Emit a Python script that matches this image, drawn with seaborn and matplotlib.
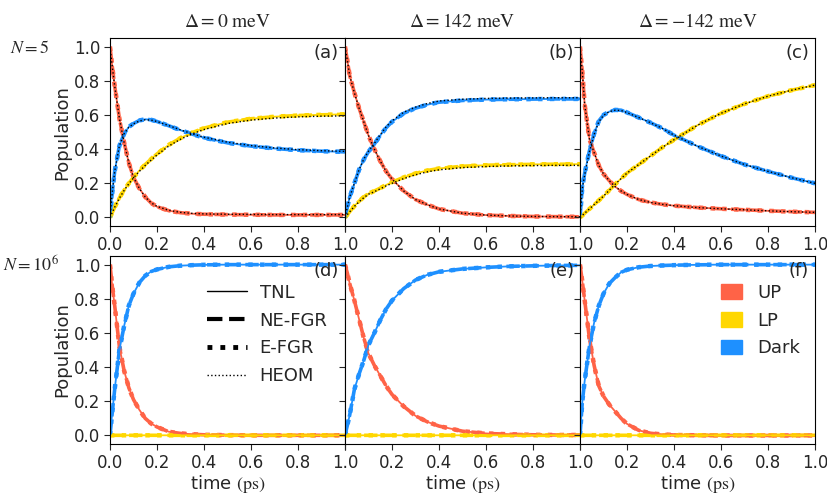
import numpy as np
import pandas as pd
import matplotlib as mpl
from matplotlib import pyplot as plt
from matplotlib.lines import Line2D
from matplotlib.patches import Patch
import seaborn as sns

sns.set_style("ticks")
plt.rcParams['font.family'] = ['DejaVu Sans']
plt.rcParams['mathtext.fontset'] = 'stix'

# time grid (ps)
time = [0.0, 0.01, 0.02, 0.04, 0.06, 0.08, 0.1, 0.125, 0.15, 0.175, 0.2,
        0.25, 0.3, 0.35, 0.4, 0.5, 0.6, 0.7, 0.8, 0.9, 1.0]

# (a) N=5, Delta=0
a_up = [1.0, 0.88, 0.77, 0.58, 0.44, 0.32, 0.235, 0.17, 0.12, 0.085, 0.063,
        0.04, 0.028, 0.022, 0.019, 0.017, 0.016, 0.015, 0.015, 0.015, 0.015]
a_lp = [0.0, 0.03, 0.06, 0.115, 0.16, 0.2, 0.235, 0.275, 0.31, 0.342, 0.372,
        0.425, 0.465, 0.497, 0.523, 0.558, 0.578, 0.59, 0.597, 0.601, 0.604]
a_dark = [0.0, 0.15, 0.27, 0.42, 0.49, 0.53, 0.55, 0.568, 0.575, 0.572, 0.562,
          0.537, 0.511, 0.488, 0.467, 0.437, 0.418, 0.404, 0.394, 0.388, 0.384]
a_heom_up = [1.0, 0.88, 0.77, 0.58, 0.44, 0.32, 0.235, 0.17, 0.12, 0.086, 0.065,
             0.042, 0.03, 0.024, 0.021, 0.019, 0.018, 0.017, 0.017, 0.017, 0.017]
a_heom_lp = [0.0, 0.03, 0.06, 0.113, 0.158, 0.197, 0.232, 0.27, 0.305, 0.336, 0.366,
             0.418, 0.458, 0.49, 0.515, 0.55, 0.57, 0.582, 0.589, 0.593, 0.595]
a_heom_dark = [0.0, 0.15, 0.27, 0.42, 0.49, 0.528, 0.548, 0.565, 0.572, 0.57, 0.562,
               0.538, 0.513, 0.49, 0.47, 0.441, 0.421, 0.407, 0.397, 0.391, 0.387]

# (b) N=5, Delta=142 meV
b_up = [1.0, 0.92, 0.83, 0.73, 0.64, 0.56, 0.48, 0.40, 0.33, 0.27, 0.225,
        0.155, 0.105, 0.075, 0.05, 0.025, 0.014, 0.009, 0.006, 0.005, 0.004]
b_lp = [0.0, 0.017, 0.034, 0.067, 0.095, 0.12, 0.14, 0.155, 0.172, 0.19, 0.207,
        0.235, 0.258, 0.275, 0.287, 0.3, 0.306, 0.309, 0.311, 0.312, 0.312]
b_dark = [0.0, 0.06, 0.12, 0.2, 0.28, 0.34, 0.385, 0.43, 0.48, 0.525, 0.56,
          0.61, 0.64, 0.66, 0.675, 0.685, 0.69, 0.692, 0.693, 0.694, 0.694]
b_heom_up = [1.0, 0.92, 0.83, 0.73, 0.64, 0.56, 0.48, 0.40, 0.33, 0.27, 0.225,
             0.155, 0.105, 0.075, 0.05, 0.025, 0.014, 0.009, 0.006, 0.005, 0.004]
b_heom_lp = [0.0, 0.017, 0.033, 0.065, 0.092, 0.116, 0.136, 0.151, 0.168, 0.185, 0.2,
             0.228, 0.25, 0.267, 0.279, 0.292, 0.298, 0.302, 0.304, 0.305, 0.305]
b_heom_dark = [0.0, 0.06, 0.12, 0.2, 0.28, 0.342, 0.388, 0.434, 0.485, 0.53, 0.566,
               0.616, 0.646, 0.667, 0.682, 0.692, 0.697, 0.699, 0.7, 0.701, 0.701]

# (c) N=5, Delta=-142 meV
c_up = [1.0, 0.85, 0.66, 0.46, 0.38, 0.305, 0.255, 0.215, 0.18, 0.155, 0.135,
        0.105, 0.088, 0.077, 0.069, 0.058, 0.051, 0.045, 0.039, 0.034, 0.03]
c_lp = [0.0, 0.012, 0.025, 0.05, 0.075, 0.1, 0.125, 0.16, 0.195, 0.228, 0.26,
        0.31, 0.36, 0.41, 0.455, 0.54, 0.61, 0.665, 0.71, 0.745, 0.775]
c_dark = [0.0, 0.18, 0.26, 0.39, 0.49, 0.565, 0.6, 0.62, 0.63, 0.628, 0.615,
          0.585, 0.555, 0.522, 0.482, 0.417, 0.36, 0.31, 0.27, 0.233, 0.2]
c_heom_up = [1.0, 0.85, 0.66, 0.46, 0.38, 0.305, 0.255, 0.215, 0.18, 0.155, 0.135,
             0.105, 0.088, 0.077, 0.069, 0.058, 0.051, 0.045, 0.039, 0.034, 0.03]
c_heom_lp = [0.0, 0.012, 0.025, 0.05, 0.075, 0.1, 0.125, 0.16, 0.195, 0.228, 0.26,
             0.31, 0.36, 0.41, 0.455, 0.54, 0.61, 0.665, 0.71, 0.745, 0.775]
c_heom_dark = [0.0, 0.17, 0.25, 0.385, 0.485, 0.56, 0.598, 0.62, 0.628, 0.626, 0.614,
               0.585, 0.555, 0.522, 0.482, 0.417, 0.36, 0.31, 0.27, 0.233, 0.2]

# (d) N=10^6, Delta=0
d_up = [1.0, 0.87, 0.76, 0.52, 0.38, 0.28, 0.21, 0.15, 0.1, 0.07, 0.05,
        0.022, 0.012, 0.007, 0.004, 0.002, 0.001, 0.001, 0.001, 0.001, 0.001]
d_lp = [0.0, 0.001, 0.001, 0.001, 0.001, 0.001, 0.001, 0.001, 0.001, 0.001, 0.001,
        0.001, 0.001, 0.001, 0.001, 0.001, 0.001, 0.001, 0.001, 0.001, 0.001]
d_dark = [0.0, 0.14, 0.27, 0.5, 0.64, 0.76, 0.83, 0.895, 0.935, 0.96, 0.972,
          0.987, 0.994, 0.997, 0.999, 1.0, 1.0, 1.0, 1.0, 1.0, 1.0]

# (e) N=10^6, Delta=142 meV
e_up = [1.0, 0.95, 0.89, 0.79, 0.68, 0.57, 0.48, 0.41, 0.35, 0.29, 0.24,
        0.17, 0.115, 0.08, 0.055, 0.025, 0.012, 0.007, 0.004, 0.003, 0.003]
e_lp = [0.0, 0.001, 0.001, 0.001, 0.001, 0.001, 0.001, 0.001, 0.001, 0.001, 0.001,
        0.001, 0.001, 0.001, 0.001, 0.001, 0.001, 0.001, 0.001, 0.001, 0.001]
e_dark = [0.0, 0.06, 0.12, 0.27, 0.36, 0.44, 0.53, 0.6, 0.675, 0.74, 0.79,
          0.86, 0.91, 0.94, 0.958, 0.975, 0.984, 0.99, 0.993, 0.995, 0.996]

# (f) N=10^6, Delta=-142 meV
f_up = [1.0, 0.9, 0.79, 0.57, 0.41, 0.29, 0.23, 0.18, 0.14, 0.1, 0.068,
        0.03, 0.013, 0.006, 0.003, 0.001, 0.0, 0.0, 0.0, 0.0, 0.0]
f_lp = [0.0, 0.001, 0.001, 0.001, 0.001, 0.001, 0.001, 0.001, 0.001, 0.001, 0.001,
        0.001, 0.001, 0.001, 0.001, 0.001, 0.001, 0.001, 0.001, 0.001, 0.001]
f_dark = [0.0, 0.2, 0.32, 0.52, 0.66, 0.76, 0.83, 0.89, 0.925, 0.955, 0.97,
          0.985, 0.992, 0.995, 0.997, 0.999, 1.0, 1.0, 1.0, 1.0, 1.0]

species = ['UP', 'LP', 'Dark']
colors = {'UP': '#FF6347', 'LP': '#FFD700', 'Dark': '#1E90FF'}
col_titles = [r'$\Delta = 0\ \mathrm{meV}$', r'$\Delta = 142\ \mathrm{meV}$',
              r'$\Delta = -142\ \mathrm{meV}$']
row_labels = [r'$N = 5$', r'$N = 10^6$']
panel_tags = ['(a)', '(b)', '(c)', '(d)', '(e)', '(f)']

panels = [
    ((a_up, a_lp, a_dark), (a_heom_up, a_heom_lp, a_heom_dark)),
    ((b_up, b_lp, b_dark), (b_heom_up, b_heom_lp, b_heom_dark)),
    ((c_up, c_lp, c_dark), (c_heom_up, c_heom_lp, c_heom_dark)),
    ((d_up, d_lp, d_dark), None),
    ((e_up, e_lp, e_dark), None),
    ((f_up, f_lp, f_dark), None),
]


def to_frame(curves):
    return pd.DataFrame.from_records([
        {'time': t, 'pop': v, 'species': sp}
        for sp, vals in zip(species, curves) for t, v in zip(time, vals)
    ])


fig, axs = plt.subplots(2, 3, figsize=(8.27, 4.95), dpi=100)
fig.subplots_adjust(left=0.133, right=0.9855, top=0.923, bottom=0.103,
                    wspace=0.0, hspace=0.16)

for i, (curves, heom) in enumerate(panels):
    ax = axs.flat[i]
    df = to_frame(curves)
    # E-FGR, NE-FGR, TNL (all same propagated populations)
    sns.lineplot(data=df, x='time', y='pop', hue='species', palette=colors,
                 hue_order=species, ax=ax, legend=False, estimator=None,
                 lw=3.2, linestyle=':')
    sns.lineplot(data=df, x='time', y='pop', hue='species', palette=colors,
                 hue_order=species, ax=ax, legend=False, estimator=None,
                 lw=2.6, linestyle='--')
    sns.lineplot(data=df, x='time', y='pop', hue='species', palette=colors,
                 hue_order=species, ax=ax, legend=False, estimator=None,
                 lw=1.3, linestyle='-')
    if heom is not None:
        hf = to_frame(heom)
        sns.lineplot(data=hf, x='time', y='pop', units='species', color='black',
                     ax=ax, legend=False, estimator=None, lw=1, linestyle=':')

    ax.set_xlim(0, 1)
    ax.set_ylim(-0.05, 1.05)
    ax.set_xticks(np.arange(0, 1.01, 0.2))
    ax.set_yticks(np.arange(0, 1.01, 0.2))
    xl = [f'{v:.1f}' for v in np.arange(0, 1.01, 0.2)]
    if i % 3 != 0:
        xl[0] = ''
    ax.set_xticklabels(xl)
    if i % 3 == 0:
        ax.set_ylabel('Population', fontsize=13, labelpad=2)
    else:
        ax.set_ylabel('')
        ax.set_yticklabels([])
    if i >= 3:
        ax.set_xlabel(r'time $\mathrm{(ps)}$', fontsize=13, labelpad=1)
    else:
        ax.set_xlabel('')
        ax.set_title(col_titles[i], fontsize=14, pad=8)
    ax.tick_params(labelsize=12, length=4, pad=3)
    for s in ax.spines.values():
        s.set_color('black')
        s.set_visible(True)
    ax.text(0.975, 0.97, panel_tags[i], transform=ax.transAxes, ha='right', va='top',
            fontsize=13)

fig.text(0.012, 1 - 48 / 495, row_labels[0], fontsize=13, va='center', ha='left')
fig.text(0.004, 1 - 266 / 495, row_labels[1], fontsize=13, va='center', ha='left')

style_handles = [Line2D([], [], color='black', lw=1, linestyle='-'),
                 Line2D([], [], color='black', lw=3, linestyle='--'),
                 Line2D([], [], color='black', lw=3.5, linestyle=':'),
                 Line2D([], [], color='black', lw=1, linestyle=':')]
axs[1, 0].legend(style_handles, ['TNL', 'NE-FGR', 'E-FGR', 'HEOM'], frameon=False,
                 loc='upper left', bbox_to_anchor=(0.345, 0.94), fontsize=13,
                 handlelength=2.2, handletextpad=0.7, labelspacing=0.55)

color_handles = [Patch(color=colors[s]) for s in species]
axs[1, 2].legend(color_handles, species, frameon=False, loc='upper left',
                 bbox_to_anchor=(0.53, 0.94), fontsize=13, handlelength=1.2,
                 handleheight=0.85, handletextpad=0.8, labelspacing=0.55)

fig.savefig('out.png', dpi=100)
